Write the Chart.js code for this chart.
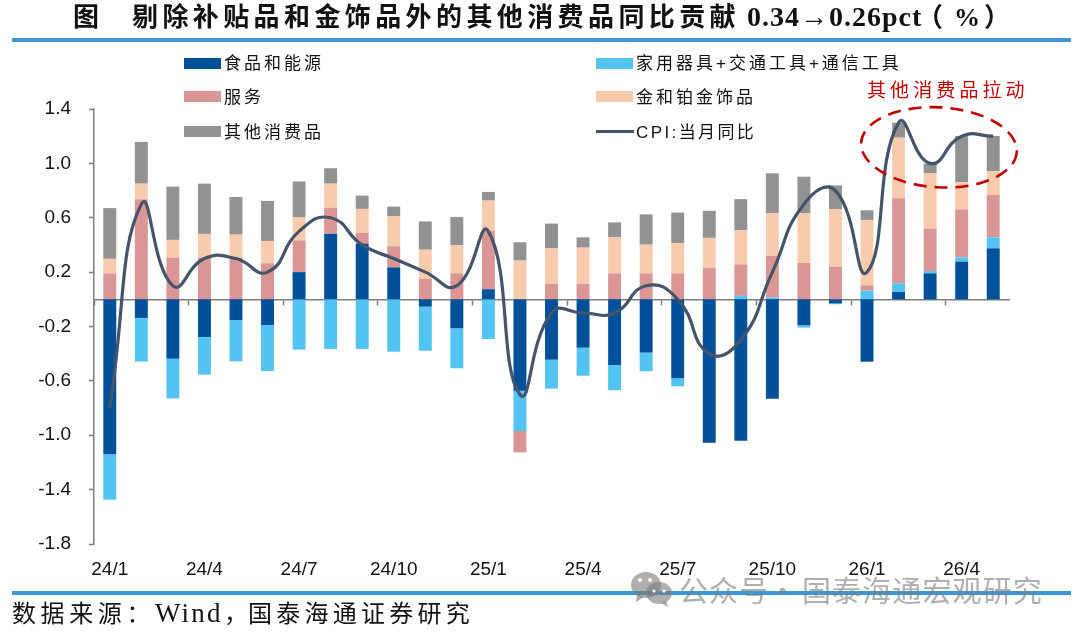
<!DOCTYPE html>
<html lang="zh">
<head>
<meta charset="utf-8">
<title>其他消费品同比贡献</title>
<script src="https://cdn.jsdelivr.net/npm/chart.js@4"></script>
<style>
  html, body { margin: 0; padding: 0; background: #fff; }
  #page { position: relative; width: 1080px; height: 633px; overflow: hidden; }
  #page canvas { position: absolute; left: 0; top: 0; }
  .txt { position: absolute; white-space: pre; line-height: 1; font-family: "Liberation Serif", "Noto Sans CJK SC", serif; color: #111; }
  .rule { position: absolute; left: 12px; width: 1059px; height: 4px; background: #3b97d8; }
  .head { top: 5px; font-size: 26px; font-weight: bold; }
  .src { top: 602px; font-size: 24px; letter-spacing: 4.6px; }
  #callout { left: 867px; top: 81px; font-size: 19px; letter-spacing: 4.1px; color: #c00000; }
  .mark { top: 575px; font-size: 29px; letter-spacing: 1.1px; color: rgba(125, 125, 125, 0.62); font-family: "Noto Sans CJK SC", sans-serif; }
  #icon { position: absolute; left: 630px; top: 571px; }
  .sw { position: absolute; }
  .lg { position: absolute; white-space: pre; font: 17px "Liberation Sans", "Noto Sans CJK SC", sans-serif; letter-spacing: 3px; color: #111; line-height: 1; }
</style>
</head>
<body>
<div id="page">
  <canvas id="cpiChart" width="1080" height="633"></canvas>
  <div class="txt head" style="left:73px">图</div>
  <div class="txt head" style="left:132px;letter-spacing:4.4px">剔除补贴品和金饰品外的其他消费品同比贡献</div>
  <div class="txt head" style="left:747px;top:3px;font-size:28px;letter-spacing:1px">0.34→0.26pct</div>
  <div class="txt head" style="left:917px">（</div>
  <div class="txt head" style="left:954px">%</div>
  <div class="txt head" style="left:984px">）</div>
  <div class="rule" style="top:38px"></div>
  <div class="rule" style="top:591px"></div>
  <div class="txt src" style="left:12px">数据来源：</div>
  <div class="txt src" style="left:155px;top:600px;font-size:27px;letter-spacing:2.2px">Wind</div>
  <div class="txt src" style="left:224px">，</div>
  <div class="txt src" style="left:248px;letter-spacing:4.25px">国泰海通证券研究</div>
  <div class="txt" id="callout">其他消费品拉动</div>
  <svg id="icon" width="44" height="36" viewBox="0 0 44 36">
    <g fill="rgba(125,125,125,0.62)">
      <ellipse cx="16" cy="14" rx="15" ry="13"/>
      <path d="M7 23 L6 31 L14 26 Z"/>
      <ellipse cx="29" cy="22" rx="13" ry="11"/>
      <path d="M36 30 L38 36 L31 32 Z"/>
    </g>
    <g fill="#fff">
      <circle cx="10" cy="9" r="2"/><circle cx="20" cy="9" r="2"/>
      <circle cx="24" cy="20" r="1.6"/><circle cx="34" cy="20" r="1.6"/>
    </g>
  </svg>
  <div class="txt mark" style="left:679px">公众号</div>
  <div class="txt mark" style="left:768px">·</div>
  <div class="txt mark" style="left:802px">国泰海通宏观研究</div>
</div>
<script>
const months = ['24/1', '24/2', '24/3', '24/4', '24/5', '24/6', '24/7', '24/8', '24/9', '24/10', '24/11', '24/12',
  '25/1', '25/2', '25/3', '25/4', '25/5', '25/6', '25/7', '25/8', '25/9', '25/10', '25/11', '25/12',
  '26/1', '26/2', '26/3', '26/4', '26/5'];
const tickLabels = ['24/1', '24/4', '24/7', '24/10', '25/1', '25/4', '25/7', '25/10', '26/1', '26/4'];
const yTicks = [1.4, 1.0, 0.6, 0.2, -0.2, -0.6, -1.0, -1.4, -1.8];

const food = [-1.14, -0.137, -0.437, -0.277, -0.152, -0.189, 0.2, 0.483, 0.41, 0.235, -0.054, -0.213,
  0.074, -0.672, -0.444, -0.356, -0.483, -0.392, -0.581, -1.055, -1.04, -0.731, -0.191, -0.03,
  -0.459, 0.054, 0.191, 0.277, 0.375];
const durables = [-0.334, -0.321, -0.292, -0.277, -0.304, -0.338, -0.37, -0.365, -0.365, -0.385, -0.324, -0.294,
  -0.292, -0.297, -0.213, -0.206, -0.186, -0.137, -0.059, 0, 0.025, 0.012, -0.017, -0.006,
  0.064, 0.064, 0.017, 0.032, 0.081];
const services = [0.19, 0.736, 0.307, 0.307, 0.307, 0.265, 0.233, 0.191, 0.078, 0.155, 0.152, 0.191,
  0.429, -0.157, 0.113, 0.113, 0.191, 0.191, 0.191, 0.231, 0.231, 0.307, 0.267, 0.24,
  0.039, 0.625, 0.312, 0.353, 0.312];
const gold = [0.108, 0.115, 0.13, 0.174, 0.169, 0.162, 0.169, 0.177, 0.177, 0.223, 0.213, 0.208,
  0.223, 0.285, 0.262, 0.267, 0.265, 0.211, 0.221, 0.221, 0.253, 0.314, 0.365, 0.424,
  0.481, 0.446, 0.407, 0.199, 0.174];
const others = [0.373, 0.307, 0.392, 0.37, 0.277, 0.297, 0.265, 0.113, 0.098, 0.069, 0.208, 0.206,
  0.064, 0.135, 0.182, 0.076, 0.11, 0.223, 0.226, 0.199, 0.228, 0.294, 0.27, 0.174,
  0.071, 0.11, 0.071, 0.341, 0.26];
const cpi = [-0.8, 0.7, 0.1, 0.3, 0.3, 0.2, 0.5, 0.6, 0.4, 0.3, 0.2, 0.1,
  0.5, -0.7, -0.1, -0.1, -0.1, 0.1, 0, -0.4, -0.3, 0.2, 0.7, 0.8,
  0.2, 1.3, 1.0, 1.2, 1.2];

function barSet(label, data, color) {
  return { type: 'bar', label, data, backgroundColor: color, stack: 'all', order: 1, barPercentage: 0.41, categoryPercentage: 1 };
}

// dashed ring around the last four months
const ringPlugin = {
  id: 'ring',
  afterDatasetsDraw(chart) {
    const cx = chart.scales.x.getPixelForValue(26.28);
    const cy = chart.scales.y.getPixelForValue(1.118);
    const ctx = chart.ctx;
    ctx.save();
    ctx.strokeStyle = '#c00000';
    ctx.lineWidth = 2.6;
    ctx.setLineDash([13, 8]);
    ctx.beginPath();
    ctx.ellipse(cx, cy, 78, 40, 0.06, 0, Math.PI * 2);
    ctx.stroke();
    ctx.restore();
  },
};

const chart = new Chart(document.getElementById('cpiChart'), {
  data: {
    labels: months,
    datasets: [
      barSet('食品和能源', food, '#00509a'),
      barSet('家用器具+交通工具+通信工具', durables, '#53c4f2'),
      barSet('服务', services, '#d99694'),
      barSet('金和铂金饰品', gold, '#f8cbad'),
      barSet('其他消费品', others, '#929292'),
      { type: 'line', label: 'CPI:当月同比', data: cpi, borderColor: '#44546a', borderWidth: 3.2, pointRadius: 0, tension: 0.5, order: 0 },
    ],
  },
  options: {
    responsive: false,
    animation: false,
    layout: { padding: { left: 0, top: 109, right: 71, bottom: 49 } },
    plugins: { legend: { display: false }, tooltip: { enabled: false } },
    scales: {
      x: {
        position: { y: 0 },
        stacked: true,
        offset: true,
        ticks: { display: false, autoSkip: false },
        border: { color: '#7f7f7f', width: 1.5 },
        grid: {
          offset: true,
          drawOnChartArea: false,
          tickLength: 5,
          tickWidth: 1.5,
          tickColor: (c) => (c.index % 3 === 0 ? '#7f7f7f' : 'transparent'),
        },
      },
      xLabels: {
        axis: 'x',
        type: 'category',
        position: 'bottom',
        labels: months,
        offset: true,
        border: { display: false },
        grid: { display: false },
        afterFit: (s) => { s.height = 40; },
        ticks: {
          autoSkip: false,
          maxRotation: 0,
          padding: 6,
          color: '#111',
          font: { family: '"Liberation Sans"', size: 19 },
          callback: (v, i) => (tickLabels.includes(months[i]) ? months[i] : ''),
        },
      },
      y: {
        stacked: true,
        min: -1.8,
        max: 1.4,
        afterBuildTicks: (s) => { s.ticks = yTicks.map((value) => ({ value })); },
        afterFit: (s) => { s.width = 94; },
        border: { color: '#7f7f7f', width: 1.5 },
        grid: { drawOnChartArea: false, tickLength: 5, tickWidth: 1.5, tickColor: '#7f7f7f' },
        ticks: {
          padding: 18,
          color: '#111',
          font: { family: '"Liberation Sans"', size: 19 },
          callback: (v) => v.toFixed(1),
        },
      },
    },
  },
  plugins: [ringPlugin],
});

// legend sits in two columns above the plot, built from the datasets
const page = document.getElementById('page');
const legendSlots = [[184, 63], [596, 63], [184, 96.5], [596, 96.5], [184, 131.5], [596, 131.5]];
chart.data.datasets.forEach((ds, n) => {
  const [x, y] = legendSlots[n];
  const sw = document.createElement('div');
  sw.className = 'sw';
  if (ds.type === 'line') {
    sw.style.cssText = `left:${x}px;top:${y - 1.5}px;width:38px;height:3px;background:${ds.borderColor}`;
  } else {
    sw.style.cssText = `left:${x}px;top:${y - 5.5}px;width:37px;height:11px;background:${ds.backgroundColor}`;
  }
  page.appendChild(sw);
  const tx = document.createElement('div');
  tx.className = 'lg';
  tx.textContent = ds.label;
  tx.style.left = (x + 40) + 'px';
  tx.style.top = (y - 8) + 'px';
  if (ds.type === 'line') tx.style.letterSpacing = '2.4px';
  page.appendChild(tx);
});
</script>
</body>
</html>
